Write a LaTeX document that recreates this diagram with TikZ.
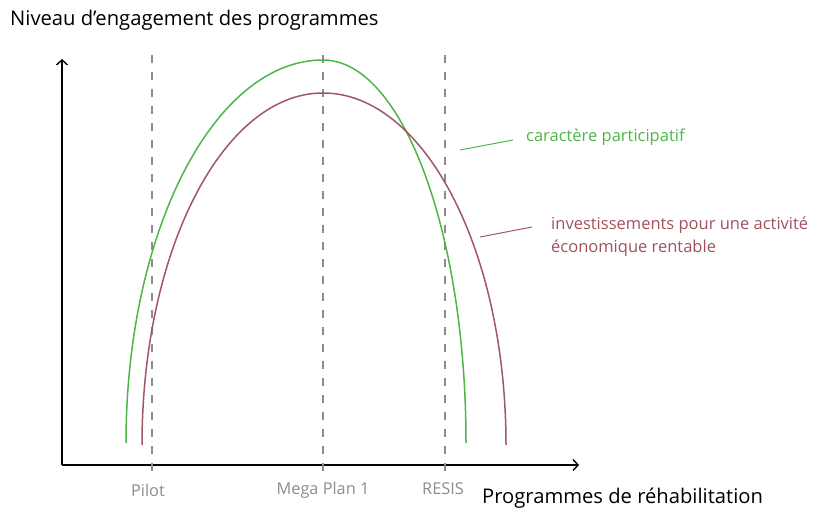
\documentclass[tikz,border=0pt]{standalone}
\usepackage{fontspec}
\setmainfont{Open Sans}
\usetikzlibrary{arrows.meta}
\definecolor{partgreen}{RGB}{76,182,72}
\definecolor{invred}{RGB}{158,88,98}
\definecolor{invtext}{RGB}{160,82,92}
\definecolor{guide}{RGB}{140,140,140}
\tikzset{
  axis/.style={line width=1.6pt,-{Straight Barb[length=5pt,width=11pt,line width=1.4pt]}},
  guideline/.style={guide,line width=1.1pt,dash pattern=on 8pt off 9pt},
  tick label/.style={guide,font=\fontsize{16.3}{18}\selectfont,inner sep=0pt},
  curvegreen/.style={partgreen,line width=1.5pt},
  curvered/.style={invred,line width=1.5pt},
  axis title/.style={black,font=\fontsize{20.2}{23}\selectfont,inner sep=0pt},
  legend text/.style={inner sep=0pt,font=\fontsize{16.5}{23}\selectfont},
}
\begin{document}
\begin{tikzpicture}[x=1pt,y=1pt]
\useasboundingbox (0,0) rectangle (813,514);
% axes
\coordinate (O) at (62,49);
\coordinate (ytop) at (62,455);
\coordinate (xend) at (579,49);
\draw[axis] (O) -- (ytop);
\draw[axis] (O) -- (xend);
% guide lines
\coordinate (p1b) at (152,42); \coordinate (p1t) at (152,459);
\coordinate (p2b) at (323,42); \coordinate (p2t) at (323,459);
\coordinate (p3b) at (445,42); \coordinate (p3t) at (445,459);
\draw[guideline] (p1t) -- (p1b);
\draw[guideline] (p2t) -- (p2b);
\draw[guideline] (p3t) -- (p3b);
% tick labels
\node[tick label] (pilot) at (148,24) {Pilot};
\node[tick label] (mega) at (323,24) {Mega Plan 1};
\node[tick label] (resis) at (443,25) {RESIS};
% axis titles
\node[axis title,anchor=west] (ytitle) at (10,494) {Niveau d’engagement des programmes};
\node[axis title,anchor=west] (xtitle) at (482,16) {Programmes de réhabilitation};
% curves
\draw[curvegreen] (126,71) arc[start angle=180,end angle=90,x radius=197,y radius=383]
  arc[start angle=90,end angle=0,x radius=143,y radius=383];
\draw[curvered] (142,69) arc[start angle=180,end angle=90,x radius=181,y radius=352]
  arc[start angle=90,end angle=0,x radius=183,y radius=352];
% legends
\node[partgreen,anchor=west,legend text] (lg) at (526,377) {caractère participatif};
\coordinate (lgs) at (460,364);
\coordinate (lge) at (513,374);
\draw[partgreen,line width=1pt] (lgs) -- (lge);
\node[invtext,anchor=north west,align=left,legend text] (lr) at (551,297) {investissements pour une activité\\économique rentable};
\coordinate (lrs) at (480,277);
\coordinate (lre) at (532,287);
\draw[invred,line width=1pt] (lrs) -- (lre);
\end{tikzpicture}
\end{document}
